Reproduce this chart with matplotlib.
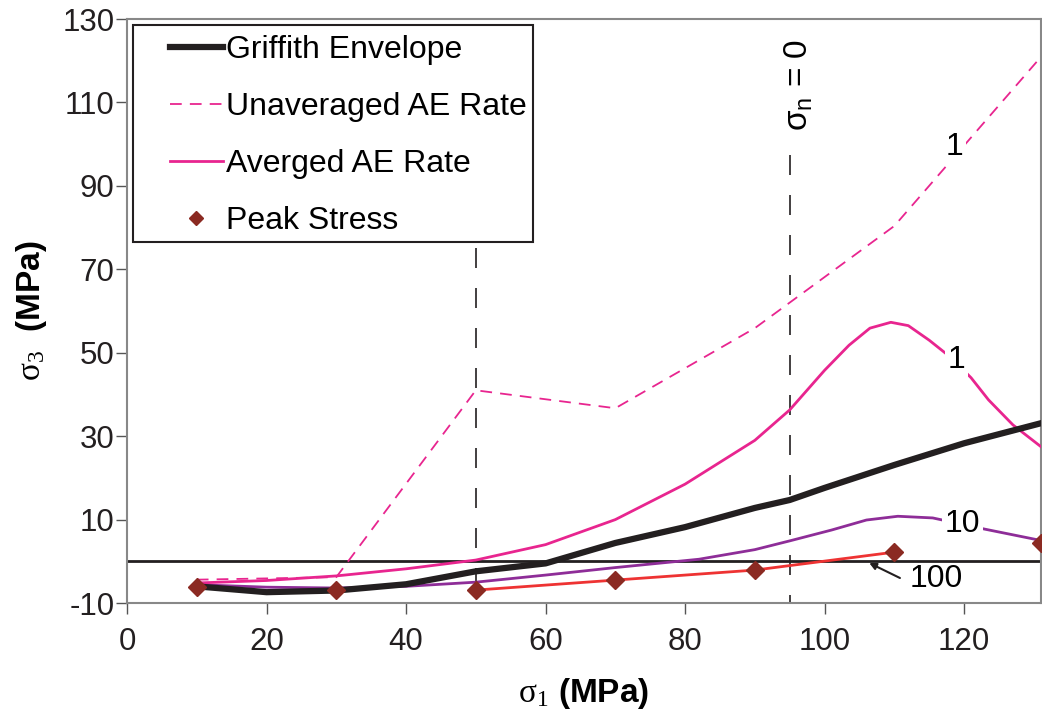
import matplotlib
matplotlib.use('Agg')
import matplotlib.pyplot as plt
from matplotlib.patches import Rectangle

plt.rcParams['font.family'] = ['Liberation Sans', 'DejaVu Sans']
plt.rcParams['mathtext.fontset'] = 'custom'
plt.rcParams['mathtext.rm'] = 'Liberation Serif'
plt.rcParams['mathtext.sf'] = 'Liberation Sans'
plt.rcParams['axes.unicode_minus'] = False

# Griffith envelope
griff_x = [10, 20, 30, 40, 50, 60, 70, 80, 90, 95, 100, 110, 120, 131]
griff_y = [-6, -7.4, -7, -5.5, -2.4, -0.5, 4.4, 8.2, 12.8, 14.7, 17.6, 23.1, 28.3, 33.1]

# unaveraged AE rate (dashed)
unavg_x = [10, 30, 50, 70, 90, 110, 131]
unavg_y = [-4.4, -3.8, 41, 36.7, 55.9, 80.4, 120.9]

# averaged AE rate, 1 MPa curve
avg1_x = [10, 20, 30, 40, 50, 60, 70, 80, 90, 95, 100, 103.5, 106.5, 109.5,
          112, 115, 118, 121, 123.5, 127, 131]
avg1_y = [-5.2, -4.6, -3.5, -1.8, 0.3, 4, 10, 18.5, 29, 36.3, 45.8, 51.8, 55.9, 57.3,
          56.5, 53, 49, 44, 38.7, 32.7, 27.5]

# averaged AE rate, 10 MPa curve
avg10_x = [10, 20, 30, 40, 50, 60, 70, 82, 90, 95, 101, 106, 110.5, 115.5, 123, 131]
avg10_y = [-5.6, -6.2, -6.4, -6, -5, -3.3, -1.5, 0.5, 2.8, 4.9, 7.5, 9.9, 10.8, 10.4, 7.7, 5]

# peak stress
peak_x = [10, 30, 50, 70, 90, 110, 131]
peak_y = [-6.2, -6.9, -6.9, -4.5, -2.1, 2.2, 4.4]

pink = '#E8258F'
purple = '#8E2D98'
red = '#EE3333'
brown = '#8B2A22'
black = '#231F20'

fig = plt.figure(figsize=(10.42, 7.19), dpi=100)
ax = fig.add_axes([0.1219, 0.1613, 0.877, 0.8122])

ax.axhline(0, color=black, lw=2, zorder=2)
ax.plot([50, 50], [75, -10], color=black, lw=1.2, dashes=(12, 12), zorder=1)
ax.plot([95, 95], [97.5, -10], color=black, lw=1.2, dashes=(12, 12), zorder=1)

ax.plot(avg10_x, avg10_y, color=purple, lw=2, zorder=3)
ax.plot(peak_x[2:6], peak_y[2:6], color=red, lw=2, zorder=3)
ax.plot(griff_x, griff_y, color=black, lw=4.5, label='Griffith Envelope', zorder=4)
ax.plot(unavg_x, unavg_y, color=pink, lw=1.3, dashes=(6.5, 4.5), label='Unaveraged AE Rate', zorder=3)
ax.plot(avg1_x, avg1_y, color=pink, lw=2, label='Averged AE Rate', zorder=3)
ax.plot(peak_x, peak_y, ls='none', marker='D', ms=9.5, color=brown, label='Peak Stress',
        zorder=5, clip_on=False)

bb = dict(facecolor='white', edgecolor='none', pad=2)
ax.text(118.6, 99.3, '1', fontsize=23, ha='center', va='center', bbox=bb, zorder=6)
ax.text(118.9, 48.2, '1', fontsize=23, ha='center', va='center', bbox=bb, zorder=6)
ax.text(119.8, 8.9, '10', fontsize=23, ha='center', va='center', bbox=bb, zorder=6)
ax.text(116, -4.3, '100', fontsize=23, ha='center', va='center', zorder=6)
ax.annotate('', xy=(106.4, -0.4), xytext=(110.8, -4),
            arrowprops=dict(arrowstyle='-|>', color=black, lw=1.5, shrinkA=0, shrinkB=0,
                            mutation_scale=10), zorder=6)
ax.text(96.3, 114.2, r'$\mathsf{\sigma_n}$ = 0', rotation=90, fontsize=24, ha='center', va='center')

ax.set_xlim(0, 131)
ax.set_ylim(-10, 130)
ax.set_xticks(range(0, 121, 20))
ax.set_yticks(range(-10, 131, 20))
ax.tick_params(axis='both', labelsize=22.5, direction='out', length=8, color='#555555',
               labelcolor=black, width=1)
ax.tick_params(axis='x', pad=9)
ax.tick_params(axis='y', pad=1)
for s in ax.spines.values():
    s.set_color('#888888')
    s.set_linewidth(1.5)

ax.set_xlabel(r'$\mathrm{\sigma_1}$ (MPa)', fontsize=24, fontweight='bold', labelpad=14)
ax.set_ylabel(r'$\mathrm{\sigma_3}$  (MPa)', fontsize=24, fontweight='bold', labelpad=10)

ax.add_patch(Rectangle((0.0066, 0.618), 0.4376, 0.3716, transform=ax.transAxes,
                       facecolor='white', edgecolor=black, lw=1.5, zorder=7))
leg = ax.legend(loc='upper left', bbox_to_anchor=(0.047, 0.973), fontsize=23, frameon=False,
                handlelength=1.65, handletextpad=0.1, labelspacing=0.85, markerscale=0.8,
                borderpad=0, borderaxespad=0)
leg.set_zorder(8)

fig.savefig('out.png', dpi=100)
